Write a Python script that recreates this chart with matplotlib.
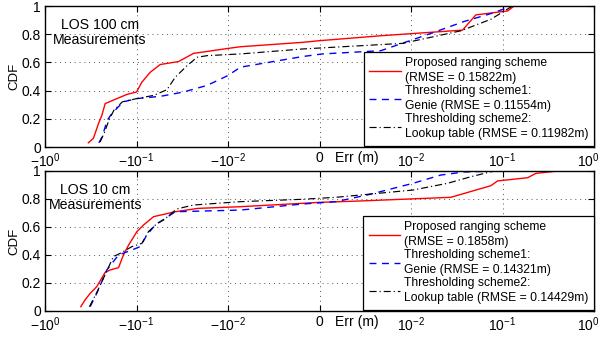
import matplotlib
matplotlib.use("Agg")
import matplotlib.pyplot as plt
from matplotlib.ticker import NullLocator, FixedLocator
from matplotlib.transforms import ScaledTranslation

plt.rcParams['font.family'] = ['Liberation Sans', 'DejaVu Sans']
plt.rcParams['mathtext.default'] = 'regular'

# ---------------- data ----------------
xtick_vals = [-1, -0.1, -0.01, 0, 0.01, 0.1, 1]
xtick_labels = [r'$-10^{0}$', r'$-10^{-1}$', r'$-10^{-2}$', '0', r'$10^{-2}$', r'$10^{-1}$', r'$10^{0}$']
ytick_vals = [0, 0.2, 0.4, 0.6, 0.8, 1]
ytick_labels = ['0', '0.2', '0.4', '0.6', '0.8', '1']

# LOS 100 cm
p100_prop_x = [-0.336, -0.296, -0.26, -0.239, -0.22, -0.164, -0.127, -0.100, -0.0873, -0.0708,
               -0.055, -0.0347, -0.0238, -0.0099, -0.00865, -0.0019, 0.0, 0.0067, 0.0366, 0.0511,
               0.114, 0.134]
p100_prop_y = [0.03, 0.061, 0.167, 0.225, 0.308, 0.343, 0.373, 0.39, 0.46, 0.53,
               0.585, 0.606, 0.664, 0.70, 0.711, 0.742, 0.754, 0.789, 0.829, 0.937,
               0.965, 1.0]
p100_genie_x = [-0.258, -0.237, -0.209, -0.186, -0.14, -0.100, -0.054, -0.0306, -0.0169,
                -0.0100, -0.00865, -0.0019, 0.0003, 0.0067, 0.0164, 0.038, 0.0746, 0.128]
p100_genie_y = [0.03, 0.073, 0.19, 0.237, 0.32, 0.343, 0.36, 0.39, 0.437,
                0.507, 0.566, 0.641, 0.66, 0.683, 0.805, 0.89, 0.946, 1.0]
p100_lut_x = [-0.25, -0.225, -0.2, -0.177, -0.143, -0.100, -0.065, -0.0465, -0.0377,
              -0.028, -0.0218, -0.0169, -0.00865, -0.0019, 0.0091, 0.035, 0.0747, 0.105, 0.128]
p100_lut_y = [0.035, 0.1, 0.19, 0.26, 0.32, 0.343, 0.366, 0.406, 0.495,
              0.577, 0.636, 0.648, 0.66, 0.695, 0.735, 0.824, 0.906, 0.965, 1.0]

# LOS 10 cm
p10_prop_x = [-0.406, -0.365, -0.321, -0.272, -0.22, -0.194, -0.157, -0.139, -0.122, -0.099,
              -0.0838, -0.065, -0.0377, -0.0213, -0.00865, -0.0019, 0.0, 0.0045, 0.0272, 0.0746,
              0.0883, 0.188, 0.232, 0.40]
p10_prop_y = [0.031, 0.079, 0.126, 0.174, 0.276, 0.293, 0.31, 0.40, 0.471, 0.567,
              0.614, 0.674, 0.709, 0.733, 0.745, 0.769, 0.776, 0.786, 0.812, 0.895,
              0.929, 0.952, 0.983, 1.0]
p10_genie_x = [-0.321, -0.272, -0.211, -0.186, -0.157, -0.112, -0.0912, -0.077, -0.0624,
               -0.0377, -0.00865, -0.0019, 0.0018, 0.0055, 0.0105, 0.0211, 0.038, 0.0883]
p10_genie_y = [0.031, 0.126, 0.293, 0.34, 0.40, 0.436, 0.46, 0.543, 0.614,
               0.709, 0.721, 0.764, 0.781, 0.833, 0.912, 0.971, 0.993, 1.0]
p10_lut_x = [-0.327, -0.269, -0.23, -0.179, -0.151, -0.112, -0.0873, -0.074, -0.0596, -0.0506,
             -0.0362, -0.0238, -0.00865, -0.0019, 0.0018, 0.0105, 0.025, 0.0451, 0.075, 0.0883]
p10_lut_y = [0.031, 0.138, 0.233, 0.388, 0.412, 0.46, 0.483, 0.567, 0.626, 0.65,
             0.729, 0.757, 0.781, 0.798, 0.812, 0.864, 0.912, 0.959, 0.995, 1.0]

panels = [
    dict(title='LOS 100 cm\nMeasurements', title_x=0.10,
         series=[(p100_prop_x, p100_prop_y), (p100_genie_x, p100_genie_y), (p100_lut_x, p100_lut_y)],
         labels=['Proposed ranging scheme\n(RMSE = 0.15822m)',
                 'Thresholding scheme1:\nGenie (RMSE = 0.11554m)',
                 'Thresholding scheme2:\nLookup table (RMSE = 0.11982m)']),
    dict(title='LOS 10 cm\nMeasurements', title_x=0.092,
         series=[(p10_prop_x, p10_prop_y), (p10_genie_x, p10_genie_y), (p10_lut_x, p10_lut_y)],
         labels=['Proposed ranging scheme\n(RMSE = 0.1858m)',
                 'Thresholding scheme1:\nGenie (RMSE = 0.14321m)',
                 'Thresholding scheme2:\nLookup table (RMSE = 0.14429m)']),
]

W, H = 599, 337
fig = plt.figure(figsize=(W / 100, H / 100), dpi=100)

axes_px = [(45, 6, 594, 147), (45, 171, 594, 311)]
styles = [dict(color='#ff0000', ls='-', lw=1.0),
          dict(color='#0000ff', ls=(0, (5, 4)), lw=1.0),
          dict(color='black', ls=(0, (6, 2.5, 1, 2.5)), lw=0.85)]

for (l, t, r, b), pan in zip(axes_px, panels):
    ax = fig.add_axes([l / W, 1 - b / H, (r - l) / W, (b - t) / H])
    ax.set_xscale('symlog', linthresh=0.01, linscale=0.9)
    for (xs, ys), st, lab in zip(pan['series'], styles, pan['labels']):
        ax.plot(xs, ys, label=lab, **st)
    ax.set_xlim(-1, 1)
    ax.set_ylim(0, 1)
    ax.xaxis.set_major_locator(FixedLocator(xtick_vals))
    ax.xaxis.set_minor_locator(NullLocator())
    ax.set_xticklabels(xtick_labels)
    ax.set_yticks(ytick_vals)
    ax.set_yticklabels(ytick_labels)
    ax.tick_params(direction='in', top=True, right=True, length=4.5, width=0.8,
                   labelsize=10, pad=3)
    # keep the last x tick label inside the figure
    last = ax.xaxis.get_major_ticks()[-1].label1
    last.set_transform(last.get_transform() + ScaledTranslation(-0.06, 0, fig.dpi_scale_trans))
    ax.grid(True, ls=(0, (1, 4)), color='#555555', lw=0.7)
    for s in ax.spines.values():
        s.set_linewidth(1.0)
    ax.set_ylabel('CDF', fontsize=9.5)
    ax.yaxis.set_label_coords(-0.044, 0.5)
    ax.text(pan['title_x'], 0.915, pan['title'], transform=ax.transAxes, fontsize=10.2,
            va='top', ha='center', multialignment='center', linespacing=1.1)
    leg = ax.legend(loc='lower right', bbox_to_anchor=(1.0, 0.01), borderaxespad=0,
                    fontsize=8.7, handlelength=2.6, handletextpad=0.35,
                    labelspacing=0.12, borderpad=0.45, fancybox=False, framealpha=1,
                    edgecolor='black')
    for txt in leg.get_texts():
        txt.set_linespacing(1.3)
    leg.get_frame().set_linewidth(0.9)
    fig.text(357 / W, 1 - (b + 11) / H, 'Err (m)', ha='center', va='center', fontsize=10)

fig.savefig('out.png', dpi=100)
